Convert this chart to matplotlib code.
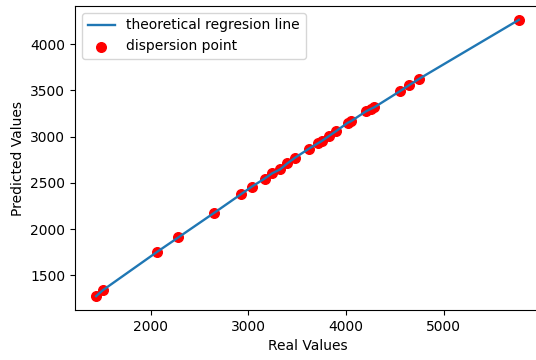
import matplotlib
matplotlib.use("Agg")
import matplotlib.pyplot as plt

real_values = [1442, 1511, 2062, 2283, 2652, 2923, 3036, 3167, 3244, 3326,
               3400, 3479, 3623, 3718, 3750, 3822, 3898, 4017, 4052, 4206,
               4257, 4290, 4554, 4642, 4751, 5769]
predicted_values = [1276, 1341, 1752, 1911, 2178, 2377, 2460, 2547, 2604, 2647,
                    2712, 2773, 2872, 2932, 2952, 3005, 3060, 3150, 3168, 3275,
                    3302, 3318, 3493, 3554, 3627, 4263]

fig = plt.figure(figsize=(5.36, 3.6), dpi=100)
ax = fig.add_axes([75/536, 50/360, 465/536, 304/360])
ax.plot(real_values, predicted_values, color="C0", lw=1.7, zorder=3,
        label="theoretical regresion line")
ax.scatter(real_values, predicted_values, color="red", s=48, zorder=2,
           label="dispersion point")
ax.set_xlabel("Real Values")
ax.set_ylabel("Predicted Values")
ax.legend(loc="upper left")
fig.savefig("out.png", dpi=100)
